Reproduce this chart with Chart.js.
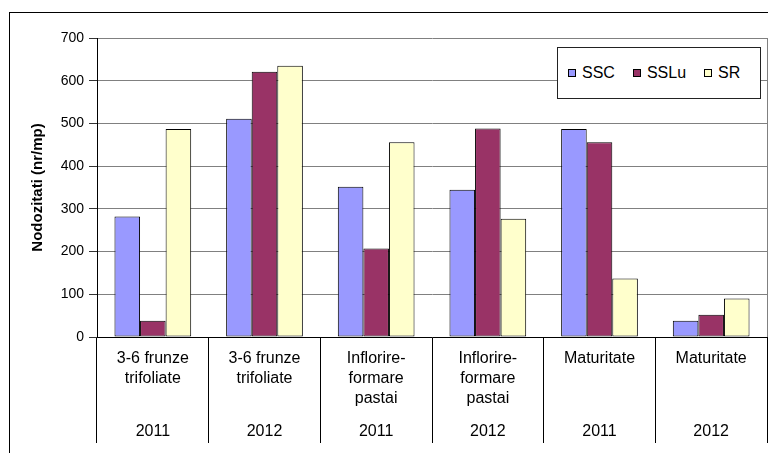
<!DOCTYPE html>
<html>
<head>
<meta charset="utf-8">
<script src="https://cdn.jsdelivr.net/npm/chart.js@4"></script>
<style>
body { margin:0; background:#fff; overflow:hidden; font-family:"Liberation Sans", Arial, sans-serif; }
#wrap { position:relative; width:768px; height:453px; }
#frame { position:absolute; left:9px; top:12px; width:1000px; height:1000px; border-left:1px solid #000; border-top:1px solid #000; }
#c { position:absolute; left:0; top:0; }
#legend { position:absolute; left:557px; top:47px; width:204px; height:52px; border:1px solid #222; background:#fff;
  display:flex; align-items:center; padding-left:10px; box-sizing:border-box; font-size:16px; color:#000; }
#legend span.item { display:flex; align-items:center; margin-right:18px; }
#legend span.box { width:6px; height:6px; border:1px solid #000; margin-right:6px; }
</style>
</head>
<body>
<div id="wrap">
<div id="frame"></div>
<canvas id="c" width="768" height="453"></canvas>
<div id="legend"></div>
</div>
<script>
// categories: growth stage (two-level axis: stage / year)
const stages = [
  ["3-6 frunze", "trifoliate"],
  ["3-6 frunze", "trifoliate"],
  ["Inflorire-", "formare", "pastai"],
  ["Inflorire-", "formare", "pastai"],
  ["Maturitate"],
  ["Maturitate"]
];
const years = ["2011", "2012", "2011", "2012", "2011", "2012"];

// nodule counts per variant
const ssc  = [282, 511, 352, 345, 487, 38];
const sslu = [38, 621, 207, 488, 456, 52];
const sr   = [487, 635, 456, 277, 137, 90];

const seriesNames = ["SSC", "SSLu", "SR"];
const seriesColors = ["#9999FF", "#993366", "#FFFFCC"];

const yTicks = { min: 0, max: 700, step: 100 };

// gray right edge of the plot area
const plotEdge = {
  id: "plotEdge",
  beforeDatasetsDraw(chart) {
    const a = chart.chartArea;
    const ctx = chart.ctx;
    ctx.save();
    ctx.strokeStyle = "#808080";
    ctx.lineWidth = 1;
    ctx.beginPath();
    ctx.moveTo(a.right + 0.5, a.top);
    ctx.lineTo(a.right + 0.5, a.bottom);
    ctx.stroke();
    ctx.restore();
  }
};

const font = "'Liberation Sans', Arial, sans-serif";

const chart = new Chart(document.getElementById("c"), {
  type: "bar",
  data: {
    labels: stages,
    datasets: [ssc, sslu, sr].map((d, i) => ({
      label: seriesNames[i],
      data: d,
      backgroundColor: seriesColors[i],
      borderColor: "#000",
      borderWidth: 1,
      borderSkipped: false,
      barPercentage: 1,
      categoryPercentage: 0.687
    }))
  },
  options: {
    responsive: false,
    animation: false,
    layout: { padding: { left: 0, top: 38, right: 1, bottom: 0 } },
    plugins: { legend: { display: false }, tooltip: { enabled: false } },
    scales: {
      x: {
        offset: true,
        grid: { offset: true, drawOnChartArea: false, tickLength: 106, color: "#000", lineWidth: 1 },
        border: { color: "#000" },
        ticks: { padding: -94, color: "#000", maxRotation: 0, autoSkip: false,
                 font: { family: font, size: 16, lineHeight: 1.25 } },
        afterFit: s => { s.height = 80; }
      },
      x2: {
        type: "category",
        labels: years,
        position: "bottom",
        offset: true,
        grid: { display: false, drawTicks: false, tickLength: 0 },
        border: { display: false },
        ticks: { padding: 5, color: "#000", maxRotation: 0, autoSkip: false,
                 font: { family: font, size: 16, lineHeight: 1.25 } },
        afterFit: s => { s.height = 36; }
      },
      y: {
        min: yTicks.min,
        max: yTicks.max,
        ticks: { stepSize: yTicks.step, padding: 5, color: "#000", font: { family: font, size: 14 } },
        grid: { color: "#808080", tickColor: "#333", tickLength: 8, lineWidth: 1 },
        border: { color: "#000" },
        title: { display: true, text: "Nodozitati (nr/mp)", color: "#000",
                 font: { family: font, size: 15, weight: "bold" }, padding: { top: 29, bottom: 0 } },
        afterFit: s => { s.width = 97; }
      }
    }
  },
  plugins: [plotEdge]
});

// legend box in the top right of the plot
const legend = document.getElementById("legend");
chart.data.datasets.forEach(ds => {
  legend.innerHTML += `<span class="item"><span class="box" style="background:${ds.backgroundColor}"></span>${ds.label}</span>`;
});
</script>
</body>
</html>
